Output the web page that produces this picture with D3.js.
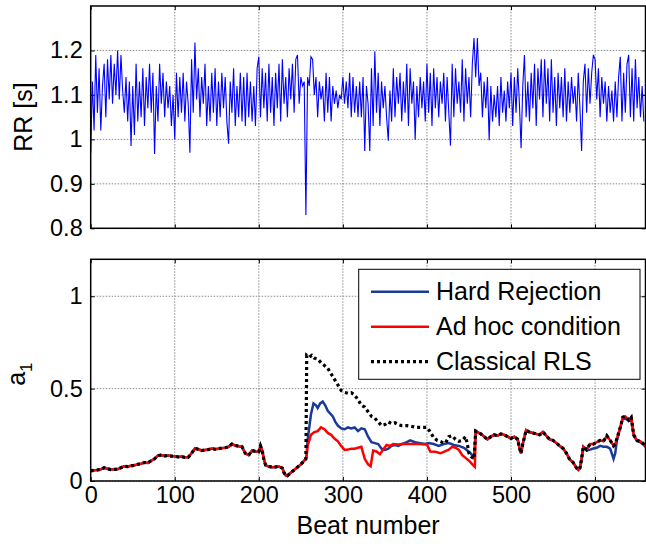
<!DOCTYPE html>
<html>
<head>
<meta charset="utf-8">
<script src="https://cdn.jsdelivr.net/npm/d3@7"></script>
<style>
  body { margin: 0; background: #fff; }
  svg text { font-family: "Liberation Sans", Arial, sans-serif; fill: #000; }
  .grid line { stroke: #8c8c8c; stroke-dasharray: 1.5,1.5; stroke-width: 1; }
</style>
</head>
<body>
<script>
// ---- data ----
// RR intervals, one value every 2 beats (beats 0, 2, ..., 658)
var rr = [
  0.97, 1.13, 1.02, 1.19, 1.06, 1.16, 1.02, 1.12, 1.17, 1.05,
  1.18, 1.09, 1.19, 1.08, 1.17, 1.10, 1.20, 1.09, 1.19, 1.11,
  1.06, 1.14, 1.04, 1.13, 0.985, 1.12, 1.01, 1.17, 1.04, 1.13,
  1.05, 1.16, 1.03, 1.14, 1.07, 1.17, 1.06, 1.15, 0.967, 1.12,
  1.04, 1.17, 1.08, 1.15, 1.05, 1.13, 1.07, 1.12, 1.03, 1.10,
  1.00, 1.15, 1.05, 1.14, 1.06, 1.15, 1.04, 1.13, 1.08, 0.97,
  1.18, 1.06, 1.218, 1.09, 1.16, 1.05, 1.14, 1.08, 1.17, 1.03,
  1.12, 1.04, 1.15, 1.06, 1.16, 1.03, 1.13, 1.05, 1.15, 1.07,
  1.14, 1.04, 0.99, 1.13, 1.06, 1.16, 1.03, 1.12, 1.05, 1.15,
  1.04, 1.14, 1.03, 1.15, 1.05, 1.13, 1.04, 1.12, 1.03, 1.16,
  1.186, 1.05, 1.16, 1.07, 1.15, 1.04, 1.17, 1.06, 1.14, 1.03,
  1.15, 1.07, 1.17, 1.04, 1.18, 1.08, 1.14, 1.05, 1.16, 1.09,
  1.17, 1.06, 1.18, 1.19, 1.08, 1.14, 1.12, 1.13, 0.83, 1.14,
  1.12, 1.186, 1.18, 1.10, 1.14, 1.05, 1.13, 1.09, 1.12, 1.04,
  1.15, 1.06, 1.14, 1.04, 1.12, 1.08, 1.11, 1.07, 1.10, 1.09,
  1.14, 1.08, 1.13, 1.07, 1.15, 1.05, 1.14, 1.06, 1.12, 1.05,
  1.13, 1.05, 1.14, 0.974, 1.12, 1.08, 0.974, 1.16, 1.03, 1.198,
  1.06, 1.15, 1.03, 1.13, 1.07, 1.12, 1.05, 0.997, 1.11, 1.04,
  1.16, 1.05, 1.14, 1.08, 1.15, 1.04, 1.13, 1.06, 1.17, 1.03,
  1.16, 1.08, 1.13, 0.999, 1.12, 1.05, 1.14, 1.07, 1.13, 1.04,
  1.17, 1.06, 1.15, 1.03, 1.16, 1.07, 1.14, 1.05, 1.13, 1.08,
  1.15, 1.04, 1.14, 1.06, 0.986, 1.17, 1.05, 1.16, 1.08, 1.13,
  1.06, 1.18, 1.04, 1.16, 1.08, 1.14, 1.05, 1.17, 1.228, 1.14,
  1.228, 1.12, 1.15, 1.05, 1.13, 1.07, 1.14, 0.998, 1.12, 1.04,
  1.10, 1.05, 1.12, 1.03, 1.14, 1.06, 1.11, 1.04, 1.13, 1.07,
  1.15, 1.03, 1.14, 1.06, 1.16, 1.08, 0.98, 1.12, 1.19, 1.05,
  1.13, 1.04, 1.15, 1.07, 1.17, 1.03, 1.16, 1.09, 1.18, 1.05,
  1.18, 1.08, 1.16, 1.04, 1.18, 1.06, 1.14, 1.03, 1.15, 1.07,
  1.14, 1.05, 1.16, 1.04, 1.13, 1.06, 1.14, 1.08, 1.12, 1.04,
  1.15, 1.07, 0.974, 1.13, 1.17, 1.06, 1.16, 1.08, 1.15, 1.19,
  1.18, 1.09, 1.16, 1.05, 1.14, 1.08, 1.13, 1.04, 1.12, 1.06,
  1.11, 1.04, 1.13, 1.05, 1.14, 1.186, 1.04, 1.15, 1.06, 1.17,
  1.19, 1.05, 1.16, 1.04, 1.18, 1.07, 1.14, 1.05, 1.12, 1.04
];
var rrStep = 2;

// a1 estimates: part common to all three methods (beats 0-256)
var commonBeat = [0,4,8,12,16,20,24,28,32,36,40,44,48,52,56,60,64,68,72,76,80,84,88,92,96,100,
  104,108,112,116,120,124,128,132,136,140,144,148,152,156,160,164,168,172,176,180,184,188,192,196,
  200,202,204,206,208,212,216,220,224,228,230,232,234,238,242,246,250,254,256];
var commonVal = [0.055,0.058,0.06,0.063,0.072,0.066,0.062,0.063,0.064,0.072,0.08,0.078,0.082,0.085,
  0.09,0.094,0.1,0.098,0.11,0.12,0.138,0.14,0.136,0.138,0.135,0.134,0.13,0.132,0.128,0.128,0.15,
  0.176,0.172,0.165,0.168,0.17,0.176,0.172,0.175,0.178,0.18,0.185,0.2,0.192,0.188,0.185,0.15,0.14,
  0.165,0.16,0.158,0.19,0.165,0.12,0.086,0.078,0.074,0.076,0.078,0.07,0.045,0.03,0.028,0.045,0.06,
  0.075,0.09,0.11,0.12];

// beats 256-458, where the methods differ
var hardBeat = [257,258,262,265,268,270,273,276,279,282,285,288,291,294,298,302,306,310,314,318,
  322,326,330,334,338,342,346,350,354,358,362,366,370,376,380,386,392,398,402,408,414,420,426,432,
  438,444,448,452,456];
var hardVal = [0.15,0.22,0.36,0.42,0.41,0.395,0.42,0.43,0.41,0.38,0.365,0.35,0.32,0.30,0.285,0.28,
  0.29,0.285,0.29,0.27,0.285,0.28,0.24,0.21,0.205,0.2,0.175,0.168,0.175,0.19,0.195,0.19,0.2,0.21,
  0.22,0.21,0.205,0.2,0.205,0.2,0.19,0.2,0.205,0.195,0.19,0.18,0.165,0.15,0.125];

var adhocBeat = [257,258,262,266,270,274,278,282,286,290,294,298,302,306,310,314,318,322,326,330,
  333,336,340,344,348,352,356,360,366,372,380,390,400,404,410,416,420,426,430,434,438,442,446,450,
  454,457];
var adhocVal = [0.14,0.19,0.25,0.265,0.27,0.29,0.28,0.26,0.25,0.23,0.215,0.19,0.168,0.17,0.175,
  0.175,0.18,0.185,0.12,0.09,0.08,0.165,0.16,0.145,0.17,0.195,0.19,0.2,0.198,0.2,0.2,0.2,0.198,0.16,
  0.158,0.15,0.158,0.17,0.185,0.18,0.168,0.14,0.125,0.11,0.09,0.077];

var rlsBeat = [257,260,263,266,270,274,278,282,286,290,294,298,302,306,310,314,318,322,326,330,
  334,338,342,346,350,354,358,362,366,370,376,382,388,394,400,404,408,412,418,422,426,430,434,438,
  442,446,448,450,453,456];
var rlsVal = [0.68,0.67,0.68,0.665,0.66,0.64,0.625,0.61,0.58,0.55,0.52,0.49,0.48,0.475,0.478,
  0.465,0.44,0.41,0.40,0.375,0.35,0.34,0.32,0.30,0.305,0.32,0.31,0.315,0.305,0.3,0.30,0.295,0.29,
  0.29,0.29,0.265,0.235,0.22,0.21,0.205,0.24,0.245,0.225,0.215,0.22,0.24,0.2,0.15,0.13,0.12];

// beats 458-660, methods agree again (hard rejection dips a little around 590-625)
var tailBeat = [458,460,464,468,472,476,480,484,488,492,496,500,504,508,510,512,514,518,522,526,
  530,534,538,542,546,550,554,558,562,566,570,574,578,580,582,584,586,590,594,598,602,606,610,614,
  618,622,624,626,630,633,636,640,643,646,650,654,658,660];
var tailVal = [0.27,0.265,0.255,0.24,0.225,0.24,0.25,0.245,0.255,0.25,0.24,0.23,0.24,0.225,0.18,
  0.15,0.2,0.275,0.265,0.26,0.255,0.25,0.265,0.245,0.225,0.22,0.205,0.19,0.176,0.15,0.115,0.1,0.07,
  0.06,0.07,0.12,0.185,0.17,0.2,0.2,0.21,0.22,0.215,0.245,0.22,0.19,0.2,0.23,0.29,0.345,0.35,0.33,
  0.345,0.25,0.22,0.215,0.2,0.19];
var hardTailVal = [0.27,0.265,0.255,0.24,0.225,0.24,0.25,0.245,0.255,0.25,0.24,0.23,0.24,0.225,0.18,
  0.15,0.2,0.275,0.265,0.26,0.255,0.25,0.265,0.245,0.225,0.22,0.205,0.19,0.176,0.15,0.115,0.1,0.07,
  0.06,0.07,0.12,0.185,0.165,0.17,0.176,0.18,0.19,0.185,0.185,0.175,0.12,0.15,0.22,0.29,0.335,0.34,
  0.325,0.335,0.245,0.215,0.21,0.195,0.185];

var xTicks = [0, 100, 200, 300, 400, 500, 600];
var rrTicks = [0.8, 0.9, 1, 1.1, 1.2];
var aTicks = [0, 0.5, 1];
var legendNames = ["Hard Rejection", "Ad hoc condition", "Classical RLS"];

// ---- layout ----
var W = 646, H = 548;
var left = 90.7, right = 645.5;
var top1 = 6, bot1 = 228.3;
var top2 = 259.3, bot2 = 481;
var tickFont = "23.5px", labelFont = "25px";

var svg = d3.select("body").append("svg")
    .attr("width", W)
    .attr("height", H);

var x = d3.scaleLinear().domain([0, 660]).range([left, right]);
var y1 = d3.scaleLinear().domain([0.8, 1.3]).range([bot1, top1]);
var y2 = d3.scaleLinear().domain([0, 1.2]).range([bot2, top2]);

function zip(bs, vs) {
    return bs.map(function (b, i) { return [b, vs[i]]; });
}

function panel(y, yticks, top, bot, showX) {
    var g = svg.append("g");
    // grid
    var grid = g.append("g").attr("class", "grid");
    grid.selectAll("line.gx").data(xTicks.slice(1)).enter().append("line")
        .attr("x1", function (d) { return x(d); }).attr("x2", function (d) { return x(d); })
        .attr("y1", top).attr("y2", bot);
    grid.selectAll("line.gy").data(yticks).enter().append("line")
        .attr("x1", left).attr("x2", right)
        .attr("y1", function (d) { return y(d); }).attr("y2", function (d) { return y(d); });

    // axes with inward ticks
    var fmt = function (d) { return d3.format("")(d); };
    g.append("g").attr("transform", "translate(0," + bot + ")")
        .call(d3.axisBottom(x).tickValues(xTicks).tickSizeInner(-4).tickSizeOuter(0)
            .tickFormat(showX ? fmt : ""))
        .call(function (a) {
            a.select(".domain").remove();
            a.selectAll("text").attr("dy", "0.71em").attr("y", 5)
                .style("font-size", tickFont).style("font-family", "Liberation Sans, Arial");
        });
    g.append("g").attr("transform", "translate(0," + top + ")")
        .call(d3.axisTop(x).tickValues(xTicks).tickSizeInner(-4).tickSizeOuter(0).tickFormat(""))
        .call(function (a) { a.select(".domain").remove(); });
    g.append("g").attr("transform", "translate(" + left + ",0)")
        .call(d3.axisLeft(y).tickValues(yticks).tickSizeInner(-4).tickSizeOuter(0).tickFormat(fmt))
        .call(function (a) {
            a.select(".domain").remove();
            a.selectAll("text").attr("x", -8)
                .style("font-size", tickFont).style("font-family", "Liberation Sans, Arial");
        });
    g.append("g").attr("transform", "translate(" + right + ",0)")
        .call(d3.axisRight(y).tickValues(yticks).tickSizeInner(-4).tickSizeOuter(0).tickFormat(""))
        .call(function (a) { a.select(".domain").remove(); });
    return g;
}

function box(top, bot) {
    svg.append("rect")
        .attr("x", left).attr("y", top)
        .attr("width", right - left).attr("height", bot - top)
        .attr("fill", "none").attr("stroke", "#000").attr("stroke-width", 1.5);
}

// ---- top panel ----
panel(y1, rrTicks, top1, bot1, false);
svg.append("defs").append("clipPath").attr("id", "clip1")
    .append("rect").attr("x", left).attr("y", top1).attr("width", right - left).attr("height", bot1 - top1);
var rrLine = d3.line()
    .x(function (d, i) { return x(i * rrStep); })
    .y(function (d) { return y1(d); });
svg.append("path").datum(rr)
    .attr("clip-path", "url(#clip1)")
    .attr("d", rrLine)
    .attr("fill", "none").attr("stroke", "#0000ff").attr("stroke-width", 1.1);
box(top1, bot1);
svg.append("text")
    .attr("transform", "translate(32," + ((top1 + bot1) / 2) + ") rotate(-90)")
    .attr("text-anchor", "middle")
    .style("font-size", labelFont)
    .text("RR [s]");

// ---- bottom panel ----
panel(y2, aTicks, top2, bot2, true);
var aLine = d3.line()
    .x(function (d) { return x(d[0]); })
    .y(function (d) { return y2(d[1]); });
var common = zip(commonBeat, commonVal);
var hard = common.concat(zip(hardBeat, hardVal), zip(tailBeat, hardTailVal));
var adhoc = common.concat(zip(adhocBeat, adhocVal), zip(tailBeat, tailVal));
var rls = common.concat(zip(rlsBeat, rlsVal), zip(tailBeat, tailVal));

var styles = [
    { color: "#1a3a9a", dash: null, width: 2.5 },
    { color: "#ff0000", dash: null, width: 2.5 },
    { color: "#000000", dash: "3,3", width: 3.2 }
];
[hard, adhoc, rls].forEach(function (s, i) {
    svg.append("path").datum(s)
        .attr("d", aLine)
        .attr("fill", "none")
        .attr("stroke", styles[i].color)
        .attr("stroke-width", styles[i].width)
        .attr("stroke-dasharray", styles[i].dash);
});
box(top2, bot2);

// legend
var lg = svg.append("g");
lg.append("rect")
    .attr("x", 358.7).attr("y", 269.3).attr("width", 281.3).attr("height", 110)
    .attr("fill", "#fff").attr("stroke", "#000").attr("stroke-width", 1);
legendNames.forEach(function (name, i) {
    var yy = 291.7 + i * 35;
    lg.append("line")
        .attr("x1", 371).attr("x2", 429).attr("y1", yy).attr("y2", yy)
        .attr("stroke", styles[i].color).attr("stroke-width", styles[i].width)
        .attr("stroke-dasharray", styles[i].dash);
    lg.append("text")
        .attr("x", 436).attr("y", yy + 8.5)
        .style("font-size", labelFont)
        .text(name);
});

svg.append("text")
    .attr("x", (left + right) / 2).attr("y", 534)
    .attr("text-anchor", "middle")
    .style("font-size", labelFont)
    .text("Beat number");

var al = svg.append("text")
    .attr("transform", "translate(25," + ((top2 + bot2) / 2 + 4) + ") rotate(-90)")
    .attr("text-anchor", "middle")
    .style("font-size", labelFont);
al.append("tspan").text("a");
al.append("tspan").attr("dy", 7).style("font-size", "17px").text("1");
</script>
</body>
</html>
